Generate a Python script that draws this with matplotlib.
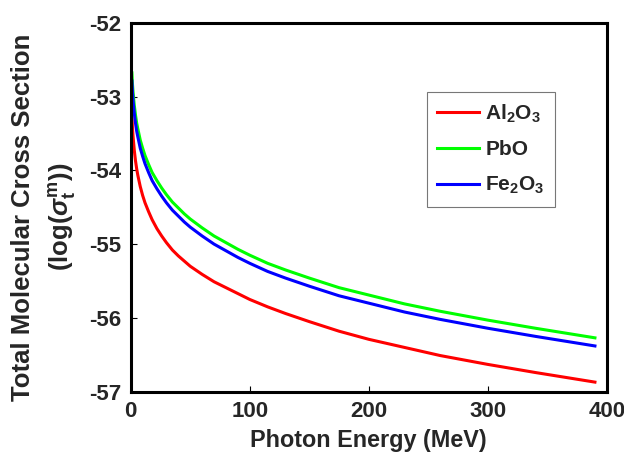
import numpy as np
import matplotlib
matplotlib.use("Agg")
import matplotlib.pyplot as plt

# dati
energy = [1, 1.5, 2, 3, 4, 5, 6, 8, 10, 12, 15, 18, 22, 26, 30, 35, 40, 45, 50, 60,
          70, 80, 90, 100, 115, 130, 150, 175, 200, 230, 260, 300, 340, 390]

al2o3 = [-53.27, -53.44, -53.55, -53.73, -53.87, -53.98, -54.07, -54.22, -54.34, -54.44,
         -54.56, -54.67, -54.79, -54.89, -54.98, -55.08, -55.16, -55.23, -55.30, -55.41,
         -55.51, -55.59, -55.67, -55.75, -55.85, -55.94, -56.05, -56.18, -56.29, -56.40,
         -56.51, -56.63, -56.74, -56.87]
pbo = [-52.68, -52.84, -52.95, -53.12, -53.25, -53.36, -53.44, -53.59, -53.70, -53.80,
       -53.92, -54.03, -54.14, -54.24, -54.33, -54.43, -54.51, -54.59, -54.66, -54.78,
       -54.89, -54.98, -55.07, -55.15, -55.26, -55.35, -55.46, -55.59, -55.69, -55.81,
       -55.91, -56.03, -56.14, -56.27]
fe2o3 = [-52.79, -52.95, -53.06, -53.23, -53.36, -53.47, -53.55, -53.70, -53.81, -53.91,
         -54.03, -54.14, -54.25, -54.35, -54.44, -54.54, -54.62, -54.70, -54.77, -54.89,
         -55.00, -55.09, -55.18, -55.26, -55.37, -55.46, -55.57, -55.70, -55.80, -55.92,
         -56.02, -56.14, -56.25, -56.38]

xticks = [0, 100, 200, 300, 400]
yticks = [-57, -56, -55, -54, -53, -52]

plt.rcParams['font.family'] = ['Liberation Sans', 'DejaVu Sans']
plt.rcParams['font.weight'] = 'bold'
plt.rcParams['axes.unicode_minus'] = False
plt.rcParams['mathtext.fontset'] = 'custom'
plt.rcParams['mathtext.rm'] = 'Liberation Sans:bold'
plt.rcParams['mathtext.it'] = 'Liberation Sans:italic:bold'
plt.rcParams['mathtext.bf'] = 'Liberation Sans:bold'

txt = '#262626'

fig = plt.figure(figsize=(6.24, 4.68), dpi=100)
ax = fig.add_axes([0.2095, 0.163, 0.763, 0.7885])

ax.plot(energy, al2o3, color='#ff0000', lw=2.2, solid_joinstyle='round', label=r'Al$_2$O$_3$')
ax.plot(energy, pbo, color='#00ff00', lw=2.2, solid_joinstyle='round', label='PbO')
ax.plot(energy, fe2o3, color='#0000ff', lw=2.2, solid_joinstyle='round', label=r'Fe$_2$O$_3$')

ax.set_xlim(0, 400)
ax.set_ylim(-57, -52)
ax.set_xticks(xticks)
ax.set_yticks(yticks)
ax.tick_params(direction='in', length=4, width=0.8, labelsize=16, labelcolor=txt, pad=7)
for lab in ax.get_xticklabels() + ax.get_yticklabels():
    lab.set_fontweight('bold')
for s in ax.spines.values():
    s.set_linewidth(2.2)

ax.set_xlabel('Photon Energy (MeV)', fontsize=16.8, fontweight='bold', color=txt, labelpad=5)
ax.set_ylabel('Total Molecular Cross Section\n' + r'(log($\sigma_{\mathrm{t}}^{\mathrm{m}}$))',
              fontsize=18.5, fontweight='bold', color=txt, linespacing=1.55)
ax.yaxis.set_label_coords(-0.11, 0.473)

leg = ax.legend(loc='upper right', bbox_to_anchor=(0.891, 0.812), fontsize=15,
                frameon=True, fancybox=False, edgecolor='#555555', handlelength=2.0,
                borderpad=0.5, labelspacing=0.75, handletextpad=0.3, borderaxespad=0)
leg.get_frame().set_linewidth(0.8)
for t in leg.get_texts():
    t.set_color(txt)

fig.savefig('out.png', dpi=100)
